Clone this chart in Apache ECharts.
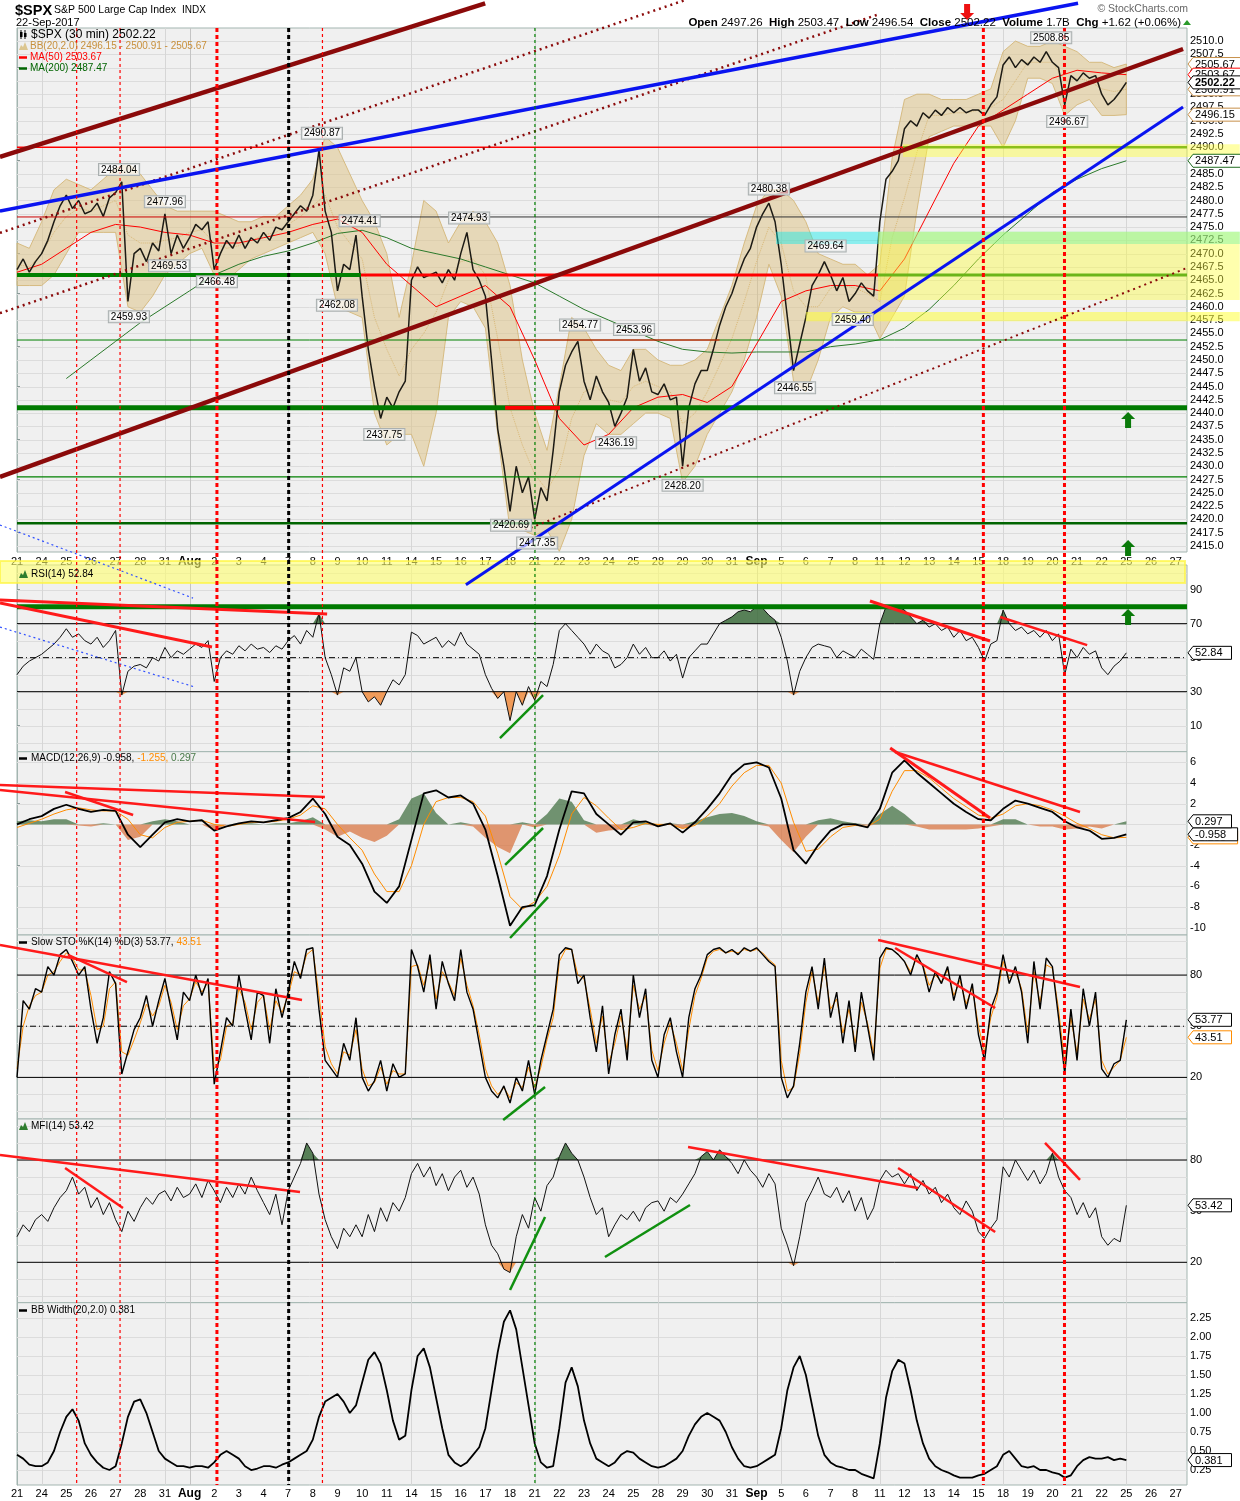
<!DOCTYPE html>
<html><head><meta charset="utf-8">
<script src="https://cdn.jsdelivr.net/npm/echarts/dist/echarts.min.js"></script>
<style>html,body{margin:0;padding:0;background:#fff}#c{width:1240px;height:1501px}</style>
</head><body><div id="c"></div>
<script>
// ---------- DATA ----------
const dayLabels = ['21','24','25','26','27','28','31','Aug','2','3','4','7','8','9','10','11','14','15','16','17','18','21','22','23','24','25','28','29','30','31','Sep','5','6','7','8','11','12','13','14','15','18','19','20','21','22','25','26','27'];
const weekStarts = [1,6,7,11,16,21,26,30,31,35,40,45];

const priceTicks = [2415,2417.5,2420,2422.5,2425,2427.5,2430,2432.5,2435,2437.5,2440,2442.5,2445,2447.5,2450,2452.5,2455,2457.5,2460,2462.5,2465,2467.5,2470,2472.5,2475,2477.5,2480,2482.5,2485,2487.5,2490,2492.5,2495,2497.5,2500,2502.5,2505,2507.5,2510];
const rsiTicks = [10,30,50,70,90];
const macdTicks = [-10,-8,-6,-4,-2,0,2,4,6];
const stoTicks = [20,50,80];
const mfiTicks = [20,50,80];
const bbwTicks = [0.25,0.5,0.75,1,1.25,1.5,1.75,2,2.25];
const rsiGridVals = [0,10,20,30,40,50,60,70,80,90,100];
const stoGridVals = [0,10,20,30,40,50,60,70,80,90,100];

// close, 4 samples per trading day (step 0.25 day)
const priceClose = [
2467,2469,2466.5,2468.5, 2470,2472.5,2476,2479, 2481,2478.5,2480,2477.5, 2478,2479.5,2477,2480.5,
2481.5,2483.5,2461,2470, 2471,2468.5,2472,2470.5, 2477.5,2470,2473.5,2471, 2473,2475.5,2474.5,2476,
2467,2470,2472.5,2471, 2473.5,2471,2473,2472, 2474,2472.5,2475,2474.5, 2476,2477.5,2479,2478,
2481,2489.5,2478,2474, 2463,2468,2467,2473.5, 2462,2452,2445,2439, 2443,2441,2444,2446,
2465,2467.5,2465.5,2466, 2466.5,2464.5,2467,2465, 2470,2474,2467,2465, 2462,2450,2437,2430,
2421.5,2430,2425,2428, 2420,2426,2423.5,2433, 2444,2449,2451.5,2453.5, 2446,2442.5,2447,2444,
2442,2437.5,2440,2443, 2452,2446,2448.5,2444, 2443.5,2445.5,2442.5,2443, 2430,2441,2445.5,2448,
2448,2452,2456.5,2460, 2462.5,2466,2469,2471, 2475,2477.5,2479.5,2476, 2468,2458,2448,2453,
2458,2464,2466,2468.5, 2466,2463,2465.5,2461, 2462.5,2464.5,2463,2462, 2476,2484,2485.5,2487.5,
2493.5,2495,2494,2496.5, 2495.5,2497,2496,2497.5, 2496.5,2497.5,2496.5,2497, 2497,2496,2498,2499.5,
2505.5,2507,2505,2506.5, 2505.5,2507,2506,2508, 2506,2505,2498,2503.5, 2502.5,2504,2503,2503.5,
2500,2498,2499,2500.5, 2502.22];

// Bollinger bands, 2 samples per day
const bbUpper = [2472,2471, 2476,2482, 2484,2483, 2482,2484, 2486,2487, 2485,2482, 2479,2478, 2478,2478,
2478,2477, 2476,2476, 2477,2477, 2479,2481, 2484,2492, 2490,2485, 2480,2476, 2470,2458, 2468,2480,
2478,2472, 2476,2478, 2476,2472, 2464,2450, 2440,2433, 2445,2458, 2456,2452, 2449,2448, 2452,2452,
2450,2449, 2449,2450, 2452,2458, 2464,2472, 2479,2482, 2482,2480, 2476,2470, 2469,2468, 2468,2466,
2468,2488, 2499,2500, 2500,2499, 2499,2499, 2500,2501, 2508,2510, 2509,2509, 2510,2509, 2508,2506,
2506,2505, 2505.67];
const bbLower = [2464,2464, 2464,2466, 2470,2474, 2474,2474, 2474,2460, 2459,2462, 2466,2468, 2470,2471,
2466,2465, 2467,2469, 2470,2471, 2472,2473, 2474,2470, 2460,2459, 2458,2440, 2434,2436, 2436,2430,
2440,2458, 2461,2460, 2456,2436, 2418,2418, 2417,2418, 2414,2420, 2432,2438, 2436,2436, 2438,2440,
2440,2439, 2427,2430, 2436,2440, 2444,2450, 2458,2468, 2462,2446, 2444,2450, 2458,2460, 2459,2459,
2454,2458, 2462,2478, 2492,2493, 2494,2494, 2494,2494, 2490,2495, 2503,2503, 2502,2496, 2498,2499,
2496,2496, 2496.15];

// moving averages, 1 sample per day
const ma50 = [2466.5,2468,2471,2474,2475.5,2475,2474,2473.5,2472,2472,2473,2474,2475.5,2476.5,2474,2468,
2464,2460,2462,2464,2460,2450,2439,2434,2436,2441,2443,2443.5,2442,2445,2453,2461,2463,2464,2464,2463,
2469,2478,2487,2494,2497,2500,2503,2504.5,2504,2503.67];
const ma200 = [null,null,2446.5,2450,2453.5,2457,2460,2463,2466,2468,2469.5,2470.5,2472,2473.8,2474.4,2473,
2471,2470,2469,2467.5,2466,2464.5,2462,2459.5,2457.5,2455.5,2453.5,2452,2451.5,2451.3,2451.5,2451.5,2451.5,
2452.5,2453,2453.8,2456,2459.5,2464,2469,2473.5,2477.5,2481.5,2484,2486,2487.47];

// RSI(14), 4 per day
const rsi = [
40,45,48,50, 52,55,58,62, 67,62,64,60, 58,62,56,60, 66,28,42,45, 46,44,50,48, 56,50,54,52, 55,58,56,60,
36,50,54,52, 57,54,58,55, 56,53,57,55, 60,63,58,66, 62,76,50,40, 28,44,42,50, 30,24,27,22, 30,37,34,40,
65,63,58,60, 62,56,60,57, 65,58,55,52, 40,32,26,30, 13,30,22,33, 25,36,33,46, 66,70,66,62, 58,52,58,54,
52,44,46,50, 58,52,56,50, 50,54,48,52, 38,50,54,58, 58,64,70,72, 74,77,78,77, 80,79,75,72, 62,48,28,42,
50,56,58,57, 56,50,54,52, 50,55,52,49, 70,80,79,80, 78,74,70,72, 68,70,66,68, 62,66,60,62, 56,48,58,60,
78,70,66,68, 64,66,62,66, 60,64,40,55, 50,56,52,54, 44,40,45,48, 52.84];

// MACD(12,26,9), 2 per day
const macdLine = [0,0.5, 0.8,1.5, 1.9,1.5, 1.2,1.4, 1.3,-1.0, -2.2,-1.0, 0.2,0.5, 0.3,0.4, -0.6,-0.2, 0.1,0.3,
0.2,0.4, 0.6,1.2, 2.5,1.0, -1.2,-2.0, -3.8,-6.5, -7.6,-6.0, -1.5,3.0, 3.3,2.6, 2.8,2.0, -0.5,-5.0,
-9.8,-8.0, -7.8,-5.0, -0.5,3.2, 3.0,1.0, 0.0,-1.0, 0.2,0.3, -0.2,0.1, -0.8,0.2, 1.5,3.0, 4.8,5.8,
6.0,5.5, 2.5,-2.5, -3.8,-2.0, -0.6,0.0, 0.0,-0.3, 1.5,5.0, 6.2,5.0, 4.0,3.0, 2.0,1.2, 0.5,0.4,
1.5,2.3, 2.0,1.6, 1.2,0.3, -0.3,-0.6, -1.4,-1.3, -0.958];
const signalLine = [-0.3,0.1, 0.5,1.0, 1.4,1.6, 1.4,1.3, 1.3,0.5, -1.0,-1.3, -0.3,0.2, 0.3,0.4, 0.0,-0.2, 0.0,0.2,
0.2,0.3, 0.5,0.9, 1.8,1.5, 0.0,-1.3, -2.5,-4.8, -6.5,-6.5, -4.0,0.0, 2.2,2.6, 2.6,2.2, 0.8,-2.8,
-7.0,-8.2, -7.5,-6.0, -3.0,1.0, 2.6,1.8, 0.6,-0.5, -0.3,0.1, 0.0,0.0, -0.4,-0.1, 0.8,2.0, 3.7,5.0,
5.7,5.7, 4.0,0.2, -2.6,-2.4, -1.2,-0.3, -0.1,-0.2, 0.5,3.2, 5.2,5.2, 4.5,3.5, 2.5,1.7, 0.9,0.6,
1.0,1.8, 2.0,1.8, 1.4,0.8, 0.1,-0.4, -1.0,-1.3, -1.255];

// Slow stochastic, 4 per day
const stoK = [
20,65,60,72, 70,85,80,92, 95,88,80,85, 60,40,55,82, 75,22,35,48, 55,68,50,65, 78,60,42,70, 65,80,68,78,
16,35,55,50, 80,60,42,70, 68,40,72,55, 70,88,78,95, 96,60,30,25, 20,40,30,55, 20,12,18,30, 12,28,20,22,
95,85,70,92, 60,88,75,65, 95,70,60,40, 20,12,8,15, 5,20,12,30, 10,30,45,60, 92,96,95,75, 80,55,35,62,
22,45,60,30, 80,55,72,30, 20,45,55,35, 20,55,72,80, 92,95,96,93, 95,92,96,94, 96,92,88,85, 20,8,15,40,
70,85,60,90, 55,70,40,65, 35,70,50,30, 90,96,95,92, 88,80,92,85, 70,82,75,85, 65,80,60,75, 45,30,60,70,
92,75,85,70, 40,88,60,90, 85,55,22,60, 30,72,50,70, 25,20,28,30, 53.77];
const stoD = [
25,50,62,68, 70,80,82,88, 93,90,83,83, 68,48,50,72, 76,35,33,42, 52,63,56,62, 74,64,48,62, 66,76,70,76,
25,30,50,52, 72,64,48,64, 68,48,65,58, 68,82,80,92, 95,68,38,28, 22,35,33,48, 25,15,17,26, 16,24,22,22,
85,86,74,88, 66,82,76,68, 90,74,62,45, 25,15,10,14, 8,17,14,26, 14,26,42,55, 88,95,95,80, 78,60,40,56,
28,40,56,36, 74,60,68,36, 24,40,52,40, 24,48,68,78, 90,94,95,93, 94,93,95,94, 95,93,89,86, 30,12,14,34,
64,82,64,85, 60,66,46,60, 40,64,52,34, 84,95,95,92, 88,82,90,86, 74,80,76,83, 68,77,63,73, 50,35,55,67,
88,78,82,72, 46,82,64,86, 84,60,28,55, 34,66,54,66, 30,22,26,30, 43.51];

// MFI(14), 4 per day
const mfi = [
35,42,38,45, 48,44,52,58, 62,70,60,64, 52,58,48,55, 45,38,50,44, 52,58,54,60, 62,56,64,58, 60,66,58,68,
62,55,64,58, 66,60,70,62, 55,48,60,42, 62,70,78,90, 84,60,45,35, 28,40,35,42, 35,48,38,52, 44,55,50,58,
72,78,70,76, 65,72,62,70, 74,64,70,60, 42,30,25,16, 14,35,48,40, 58,50,65,70, 82,90,84,80, 70,58,48,52,
35,42,48,45, 50,44,52,55, 56,50,58,55, 60,66,72,82, 85,80,86,82, 78,72,80,74, 70,64,72,66, 40,30,18,35,
55,62,70,60, 58,64,55,62, 50,58,45,52, 68,74,70,72, 66,72,62,68, 60,64,55,60, 52,48,56,50, 38,34,40,45,
76,70,80,74, 68,74,66,72, 84,70,62,58, 48,55,46,52, 35,30,34,32, 53.42];

// BB Width, 4 per day
const bbw = [
0.45,0.4,0.32,0.3, 0.3,0.35,0.5,0.75, 0.95,1.05,0.9,0.6, 0.45,0.35,0.28,0.25, 0.3,0.6,0.95,1.15, 1.18,1.0,0.75,0.5,
0.4,0.35,0.3,0.3, 0.28,0.3,0.3,0.28, 0.35,0.45,0.5,0.45, 0.4,0.3,0.25,0.27, 0.3,0.3,0.28,0.32, 0.35,0.4,0.45,0.5,
0.65,0.95,1.15,1.2, 1.25,1.15,1.0,1.1, 1.4,1.7,1.8,1.65, 1.3,0.9,0.65,0.7, 1.3,1.75,1.85,1.6, 1.2,0.8,0.45,0.35,
0.3,0.35,0.45,0.55, 0.8,1.3,1.8,2.2, 2.35,2.1,1.6,1.1, 0.6,0.35,0.28,0.3, 0.8,1.4,1.6,1.35, 0.9,0.6,0.4,0.35,
0.3,0.35,0.45,0.5, 0.48,0.4,0.35,0.3, 0.28,0.3,0.35,0.4, 0.5,0.7,0.85,0.95, 1.0,0.95,0.9,0.75, 0.55,0.4,0.3,0.28,
0.3,0.35,0.4,0.45, 0.8,1.3,1.6,1.75, 1.5,1.1,0.7,0.45, 0.35,0.3,0.28,0.25, 0.25,0.2,0.17,0.14, 0.6,1.2,1.55,1.7,
1.65,1.3,0.9,0.6, 0.4,0.3,0.25,0.22, 0.18,0.15,0.15,0.15, 0.18,0.2,0.25,0.3, 0.45,0.5,0.4,0.3, 0.28,0.3,0.25,0.25,
0.22,0.2,0.15,0.18, 0.3,0.38,0.42,0.4, 0.4,0.42,0.38,0.4, 0.381];

// labelled highs (1) / lows (0): [day, price, isHigh]
const extremes = [[4.14,2484.04,1],[6.0,2477.96,1],[12.37,2490.87,1],[13.9,2474.41,1],[18.34,2474.93,1],
[6.17,2469.53,0],[8.11,2466.48,0],[4.54,2459.93,0],[12.98,2462.08,0],[14.9,2437.75,0],
[22.84,2454.77,1],[25.03,2453.96,1],[24.3,2436.19,0],[20.04,2420.69,0],[21.1,2417.35,0],
[27.0,2428.20,0],[30.5,2480.38,1],[32.8,2469.64,1],[31.56,2446.55,0],[33.9,2459.40,0],
[41.95,2508.85,1],[42.6,2496.67,0]];

// ---------- ANNOTATIONS (data coordinates) ----------
const vLines = [{d:2.42,c:'#ff0000',w:1.2,dash:[3,3]},{d:4.18,c:'#ff0000',w:1.2,dash:[3,3]},{d:8.11,c:'#ff0000',w:3,dash:[4,3]},
{d:11.02,c:'#000000',w:3,dash:[4,3]},{d:12.39,c:'#ff0000',w:1.2,dash:[3,3]},{d:21.01,c:'#008000',w:1.2,dash:[3,3]},
{d:39.2,c:'#ff0000',w:3,dash:[4,3]},{d:42.49,c:'#ff0000',w:3,dash:[4,3]}];
const priceLevels = [
{a:0,b:35.94,p:2490,c:'#ff0000',w:1.5},{a:35.94,b:47.46,p:2490,c:'#2e8b00',w:2.5},
{a:0,b:13.3,p:2476.9,c:'#cc0000',w:1},{a:13.3,b:47.46,p:2476.9,c:'#333333',w:1},
{a:0,b:13.95,p:2466,c:'#008000',w:4},{a:13.95,b:34.93,p:2466,c:'#ff0000',w:3},{a:34.93,b:47.46,p:2466,c:'#008000',w:3},
{a:0,b:47.46,p:2453.75,c:'#008000',w:1},{a:19.2,b:28.5,p:2453.75,c:'#ff0000',w:1},
{a:0,b:47.46,p:2441,c:'#007a00',w:5},{a:19.8,b:22.03,p:2441,c:'#ff0000',w:4},
{a:0,b:47.46,p:2428,c:'#008000',w:1.3},{a:0,b:47.46,p:2419.3,c:'#006400',w:2.5}];
const priceBands = [
{a:35.94,b:49.6,p1:2488.2,p2:2490.6,c:'rgba(255,255,60,0.45)'},
{a:30.79,b:49.6,p1:2471.8,p2:2474.1,c:'rgba(0,235,235,0.42)'},
{a:34.93,b:49.6,p1:2461.3,p2:2474.1,c:'rgba(255,255,60,0.42)'},
{a:32.0,b:49.6,p1:2457.3,p2:2459.0,c:'rgba(255,255,60,0.55)'}];
// trend lines: [grid, [d1,v1],[d2,v2], color, width, dash]
const DR='#8b0a0a', BL='#0a14f0', RD='#ff1a1a', GR='#109010';
const trends = [
[0,[-0.69,2488.2],[18.99,2517.1],DR,4.5,null],
[0,[-0.69,2428.0],[47.3,2508.5],DR,4.5,null],
[0,[-0.69,2473.9],[27.1,2517.7],DR,2.5,[2,4]],
[0,[-0.69,2458.8],[35.0,2515.1],DR,2.5,[2,4]],
[0,[20.61,2418.0],[47.46,2467.3],DR,2,[2,4]],
[0,[-0.69,2478.0],[43.04,2517.1],BL,3.5,null],
[0,[18.21,2407.7],[47.3,2497.6],BL,3,null],
[0,[-0.69,2418.95],[7.14,2405.2],'#3050ff',1.2,[2,3]],
[1,[-0.69,68.0],[7.22,32.7],'#3050ff',1.2,[2,3]],
[1,[-0.69,83.9],[12.58,75.7],RD,3,null],
[1,[-0.69,82.1],[7.91,56.3],RD,3,null],
[1,[34.6,83.3],[39.47,59.8],RD,3,null],
[1,[39.88,73.9],[43.41,57.4],RD,2.5,null],
[1,[19.59,2.7],[21.34,28.0],GR,2.5,null],
[2,[-0.69,3.81],[12.49,2.65],RD,2.5,null],
[2,[-0.69,3.33],[12.09,0.23],RD,2.5,null],
[2,[1.95,3.13],[4.71,0.91],RD,2.5,null],
[2,[35.42,7.39],[39.47,0.62],RD,3,null],
[2,[35.62,7.0],[43.12,1.2],RD,2.5,null],
[2,[19.8,-3.92],[21.34,-0.35],GR,2.5,null],
[2,[20.0,-10.99],[21.54,-7.03],GR,2.5,null],
[3,[-0.69,97.6],[11.56,65.4],RD,2.5,null],
[3,[2.07,91.8],[4.46,75.9],RD,2.5,null],
[3,[34.93,100.6],[43.12,73.0],RD,2.5,null],
[3,[35.62,95.9],[39.68,60.7],RD,2.5,null],
[3,[19.72,-5.0],[21.42,14.4],GR,2.5,null],
[4,[-0.69,82.9],[11.48,61.2],RD,2.5,null],
[4,[1.95,75.3],[4.3,51.8],RD,2.5,null],
[4,[27.22,87.6],[36.55,63.6],RD,2.5,null],
[4,[35.74,75.3],[39.68,37.8],RD,2.5,null],
[4,[41.7,90.0],[43.12,68.3],RD,2.5,null],
[4,[20.0,3.8],[21.42,46.6],GR,2.5,null],
[4,[23.85,23.1],[27.3,53.6],GR,2.5,null]];

// ---------- BUILD ----------
const FONT = '"Liberation Sans", Arial, sans-serif';
const chart = echarts.init(document.getElementById('c'));
const XMAX = 47.46;
const gridDefs = [[28,524],[565,186.7],[751.7,183.3],[935,184],[1119,183.7],[1302.7,182.3]];
const yRanges = [[2413.87,2512.45],[-5.3,104.5],[-10.7,7.03],[-4.4,103.5],[-3.69,104.05],[0.053,2.451]];
const yTicks = [priceTicks,rsiTicks,macdTicks,stoTicks,mfiTicks,bbwTicks];
const gridVals = [priceTicks,rsiGridVals,macdTicks,stoGridVals,stoGridVals,bbwTicks];
const yFmt = [v=>v.toFixed(1),v=>String(v),v=>String(v),v=>String(v),v=>String(v),v=>v.toFixed(2)];

const pts = (arr, step) => arr.map((v,i)=>[i*step, v]).filter(p=>p[1]!==null);
const grids = gridDefs.map(g=>({left:17,width:1170,top:g[0],height:g[1],show:true,backgroundColor:'#f0f0f0',borderColor:'#a3b5b0',borderWidth:1}));
const xAxis = gridDefs.map((g,i)=>({type:'value',gridIndex:i,min:0,max:XMAX,interval:1,
  axisLine:{show:false},axisTick:{show:false},splitLine:{show:false},
  axisLabel:{show:i===0||i===5,margin:i===0?4:3,fontFamily:FONT,fontSize:11,color:'#000',
    formatter:v=>{if(Math.abs(v-Math.round(v))>0.01)return '';const s=dayLabels[Math.round(v)];if(s==null)return '';return (s==='Aug'||s==='Sep')?'{m|'+s+'}':s;},
    rich:{m:{fontWeight:'bold',fontSize:12,fontFamily:FONT,color:'#000'}}}}));
const yAxis = gridDefs.map((g,i)=>({type:'value',gridIndex:i,position:'right',min:yRanges[i][0],max:yRanges[i][1],
  axisLine:{show:true,lineStyle:{color:'#a3b5b0'}},
  axisTick:{show:true,length:3,lineStyle:{color:'#8a9a98'},customValues:yTicks[i]},
  axisLabel:{show:true,margin:3,fontSize:11,fontFamily:FONT,color:'#000',customValues:yTicks[i],formatter:yFmt[i]},
  splitLine:{show:false}}));

function lineS(gi,data,color,w,type){return {type:'line',xAxisIndex:gi,yAxisIndex:gi,data,symbol:'none',showSymbol:false,silent:true,
  lineStyle:{color,width:w,type:type||'solid'},z:2};}
function polyS(gi,points,style){return {type:'custom',xAxisIndex:gi,yAxisIndex:gi,data:[[0,0]],silent:true,z:2,
  renderItem:(params,api)=>({type:'polygon',shape:{points:points.map(p=>api.coord(p))},style})};}
function clampPoly(data,level,above){const top=data.map(p=>[p[0],above?Math.max(p[1],level):Math.min(p[1],level)]);
  const base=data.slice().reverse().map(p=>[p[0],level]);return top.concat(base);}

const pricePts = pts(priceClose,0.25);
const upPts = pts(bbUpper,0.5), loPts = pts(bbLower,0.5);
const bandPoly = upPts.concat(loPts.slice().reverse());
const midPts = upPts.map((p,i)=>[p[0],(p[1]+loPts[i][1])/2]);
const rsiPts = pts(rsi,0.25);
const macdPts = pts(macdLine,0.5), sigPts = pts(signalLine,0.5);
const histPts = macdPts.map((p,i)=>[p[0],p[1]-sigPts[i][1]]);
const mfiPts = pts(mfi,0.25);

const series = [
  polyS(0,bandPoly,{fill:'rgba(222,196,138,0.55)',stroke:'rgba(210,180,115,0.85)',lineWidth:1}),
  lineS(0,midPts,'#d9b877',1,'dotted'),
  lineS(0,pts(ma200,1),'#2b7a2b',1),
  lineS(0,pts(ma50,1),'#ff0000',1),
  lineS(0,pricePts,'#1c1a14',1.5),
  polyS(1,clampPoly(rsiPts,70,true),{fill:'rgba(70,115,70,0.9)'}),
  polyS(1,clampPoly(rsiPts,30,false),{fill:'rgba(240,150,80,0.95)'}),
  lineS(1,rsiPts,'#111',1),
  polyS(2,clampPoly(histPts,0,true),{fill:'rgba(70,115,70,0.75)'}),
  polyS(2,clampPoly(histPts,0,false),{fill:'rgba(215,110,55,0.7)'}),
  lineS(2,sigPts,'#ff8c00',1),
  lineS(2,macdPts,'#000',1.8),
  lineS(3,pts(stoD,0.25),'#ff8c00',1),
  lineS(3,pts(stoK,0.25),'#000',1.4),
  polyS(4,clampPoly(mfiPts,80,true),{fill:'rgba(70,115,70,0.9)'}),
  polyS(4,clampPoly(mfiPts,20,false),{fill:'rgba(240,150,80,0.95)'}),
  lineS(4,mfiPts,'#111',1),
  lineS(5,pts(bbw,0.25),'#000',1.8)
];

chart.setOption({animation:false,backgroundColor:'#ffffff',grid:grids,xAxis,yAxis,series});

// ---------- graphic overlay via the chart's own scales ----------
const P=(gi,x,y)=>chart.convertToPixel({gridIndex:gi},[x,y]);
const gfx=[];
function ln(x1,y1,x2,y2,stroke,w,dash,z){gfx.push({type:'line',silent:true,z:z,shape:{x1,y1,x2,y2},style:{stroke,lineWidth:w,lineDash:dash||null}});}
function txt(x,y,text,opt){gfx.push({type:'text',silent:true,z:opt.z||30,x,y,style:Object.assign({text,fontFamily:FONT,fontSize:10,fill:'#000',verticalAlign:'middle',align:'left'},opt.s||{})});}
function poly(points,style,z){gfx.push({type:'polygon',silent:true,z:z||30,shape:{points},style});}

// faint grid lines
gridDefs.forEach((g,gi)=>{
  const xL=P(gi,0,yRanges[gi][0])[0], xR=P(gi,XMAX,yRanges[gi][0])[0];
  gridVals[gi].forEach(v=>{const y=Math.round(P(gi,0,v)[1])+0.5;ln(xL,y,xR,y,'#dcdcdc',1,null,1);});
  weekStarts.forEach(d=>{const x=Math.round(P(gi,d,0)[0])+0.5;ln(x,g[0],x,g[0]+g[1],(d===7||d===30)?'#c4c4c4':'#d6d6d6',1,null,1);});
});
// price level lines
priceLevels.forEach(l=>{const a=P(0,l.a,l.p),b=P(0,l.b,l.p);ln(a[0],a[1],b[0],b[1],l.c,l.w,null,4);});
// bands
priceBands.forEach(b=>{const a=P(0,b.a,b.p2),c=P(0,b.b,b.p1);gfx.push({type:'rect',silent:true,z:5,shape:{x:a[0],y:a[1],width:c[0]-a[0],height:c[1]-a[1]},style:{fill:b.c}});});
{const a=P(1,-0.69,106.9),c=P(1,47.38,93.9);gfx.push({type:'rect',silent:true,z:5,shape:{x:a[0],y:a[1],width:c[0]-a[0],height:c[1]-a[1]},style:{fill:'rgba(255,255,110,0.6)',stroke:'rgba(255,245,60,0.7)',lineWidth:2}});}
// indicator reference lines
[[1,70,'#000',1,null],[1,30,'#000',1,null],[1,50,'#000',1,[6,3,1,3]],[1,80,'#007a00',5,null],
 [3,80,'#000',1,null],[3,20,'#000',1,null],[3,50,'#000',1,[6,3,1,3]],
 [4,80,'#000',1,null],[4,20,'#000',1,null]].forEach(r=>{const a=P(r[0],0,r[1]),b=P(r[0],XMAX,r[1]);ln(a[0],a[1],b[0],b[1],r[2],r[3],r[4],3);});
// trend lines
trends.forEach(t=>{const a=P(t[0],t[1][0],t[1][1]),b=P(t[0],t[2][0],t[2][1]);ln(a[0],a[1],b[0],b[1],t[3],t[4],t[5],6);});
// vertical dotted markers
vLines.forEach(v=>{const x=P(0,v.d,2450)[0];ln(x,28,x,1485,v.c,v.w,v.dash,7);});
// labelled extremes
extremes.forEach(e=>{const p=P(0,e[0],e[1]);
  gfx.push({type:'text',silent:true,z:12,x:p[0],y:e[2]?p[1]-4:p[1]+4,style:{text:e[1].toFixed(2),fontFamily:FONT,fontSize:10,fill:'#000',
    align:'center',verticalAlign:e[2]?'bottom':'top',backgroundColor:'rgba(255,255,255,0.6)',borderColor:'#aab0b0',borderWidth:1,padding:[1,2,0,2]}});});
// arrows
function upArrow(cx,cy,col){poly([[cx,cy-8],[cx+7,cy-1],[cx+3,cy-1],[cx+3,cy+8],[cx-3,cy+8],[cx-3,cy-1],[cx-7,cy-1]],{fill:col},25);}
function downArrow(cx,cy,col){poly([[cx,cy+8],[cx+7,cy+1],[cx+3,cy+1],[cx+3,cy-8],[cx-3,cy-8],[cx-3,cy+1],[cx-7,cy+1]],{fill:col},25);}
{let p=P(0,45.07,2438.7);upArrow(p[0],p[1],'#0a7a0a');p=P(0,45.07,2414.6);upArrow(p[0],p[1],'#0a7a0a');
 p=P(1,45.07,73.9);upArrow(p[0],p[1],'#0a7a0a');p=P(0,38.54,2515.45);downArrow(p[0],p[1],'#ee1111');}
// right value tags
let tz=40;
function tag(gi,v,text,color,bold){const y=P(gi,XMAX,v)[1];const x0=1188;const w=text.length*6.1+8;
  poly([[x0,y],[x0+5,y-6.5],[x0+5+w,y-6.5],[x0+5+w,y+6.5],[x0+5,y+6.5]],{fill:'#fff',stroke:color,lineWidth:1},tz++);
  gfx.push({type:'text',silent:true,z:tz++,x:x0+7,y:y+0.5,style:{text,fontFamily:FONT,fontSize:11,fontWeight:bold?'bold':'normal',fill:'#000',verticalAlign:'middle'}});}
tag(0,2496.15,'2496.15','#c8904a');tag(0,2500.91,'2500.91','#c8904a');tag(0,2505.67,'2505.67','#c8904a');
tag(0,2487.47,'2487.47','#1f6b1f');tag(0,2503.67,'2503.67','#ff0000');tag(0,2502.22,'2502.22','#000',true);
tag(1,52.84,'52.84','#000');
tag(2,-1.255,'-1.255','#ff8c00');tag(2,-0.958,'-0.958','#000');tag(2,0.297,'0.297','#000');
tag(3,43.51,'43.51','#ff8c00');tag(3,53.77,'53.77','#000');
tag(4,53.42,'53.42','#000');tag(5,0.381,'0.381','#000');

// header texts
txt(15,10.5,'$SPX',{s:{fontSize:14.5,fontWeight:'bold'}});
txt(54,10.5,'S&P 500 Large Cap Index',{s:{fontSize:10.5}});
txt(182,10.5,'INDX',{s:{fontSize:10}});
txt(16,22.5,'22-Sep-2017',{s:{fontSize:11}});
txt(1188,9,'\u00A9 StockCharts.com',{s:{fontSize:10.5,fill:'#666',align:'right'}});
gfx.push({type:'text',silent:true,z:30,x:1181,y:22.5,style:{text:'{b|Open} 2497.26  {b|High} 2503.47  {b|Low} 2496.54  {b|Close} 2502.22  {b|Volume} 1.7B  {b|Chg} +1.62 (+0.06%)',
  fontFamily:FONT,fontSize:11.5,fill:'#000',align:'right',verticalAlign:'middle',rich:{b:{fontFamily:FONT,fontSize:11.5,fontWeight:'bold',fill:'#000'}}}});
poly([[1183,25],[1187,20],[1191,25]],{fill:'#2a9a2a'},30);
// legends
function dash(x,y,c){ln(x,y,x+8,y,c,2.5,null,30);}
function mount(x,y,c){poly([[x,y+4],[x+2,y-1],[x+4,y+1],[x+6,y-4],[x+9,y+4]],{fill:c},30);}
ln(21,30,21,39,'#000',1,null,30);ln(25,30,25,39,'#000',1,null,30);gfx.push({type:'rect',silent:true,z:30,shape:{x:20,y:32,width:2.5,height:5},style:{fill:'#000'}});gfx.push({type:'rect',silent:true,z:30,shape:{x:24,y:33,width:2.5,height:4},style:{fill:'#000'}});
txt(31,35,'$SPX (30 min) 2502.22',{s:{fontSize:12}});
mount(19,46,'#dcc690');txt(30,46.5,'BB(20,2.0) 2496.15 - 2500.91 - 2505.67',{s:{fontSize:10,fill:'#c8903c'}});
dash(19,57.5,'#ff0000');txt(30,57.5,'MA(50) 2503.67',{s:{fontSize:10,fill:'#ff0000'}});
dash(19,68.5,'#006400');txt(30,68.5,'MA(200) 2487.47',{s:{fontSize:10,fill:'#006400'}});
mount(19,574,'#2e7d2e');txt(31,574.5,'RSI(14) 52.84',{s:{fontSize:10}});
dash(19,758.5,'#000');gfx.push({type:'text',silent:true,z:30,x:31,y:758.5,style:{text:'MACD(12,26,9) -0.958, {o|-1.255,} {g|0.297}',fontFamily:FONT,fontSize:10,fill:'#000',verticalAlign:'middle',
  rich:{o:{fill:'#ff8c00',fontFamily:FONT,fontSize:10},g:{fill:'#4a7a4a',fontFamily:FONT,fontSize:10}}}});
dash(19,942.5,'#000');gfx.push({type:'text',silent:true,z:30,x:31,y:942.5,style:{text:'Slow STO %K(14) %D(3) 53.77, {o|43.51}',fontFamily:FONT,fontSize:10,fill:'#000',verticalAlign:'middle',
  rich:{o:{fill:'#ff8c00',fontFamily:FONT,fontSize:10}}}});
mount(19,1126,'#2e7d2e');txt(31,1126.5,'MFI(14) 53.42',{s:{fontSize:10}});
dash(19,1310.5,'#000');txt(31,1310.5,'BB Width(20,2.0) 0.381',{s:{fontSize:10}});

chart.setOption({graphic:{elements:gfx}});
</script></body></html>
